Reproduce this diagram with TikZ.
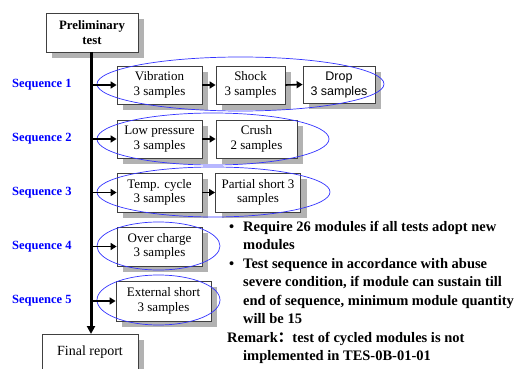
\documentclass[tikz,border=0pt]{standalone}
\usepackage{fontspec}
\setmainfont{Liberation Serif}
\newfontfamily\arialf{Liberation Sans}
\newfontfamily\cjk{Noto Sans CJK SC}
\usetikzlibrary{shadows,arrows.meta}
\begin{document}
\begin{tikzpicture}[x=1pt,y=-1pt,
  box/.style={draw=black!75, line width=0.8pt, fill=white, align=center, inner sep=1pt,
    font=\fontsize{13}{14.5}\selectfont,
    copy shadow={shadow xshift=6pt, shadow yshift=-6pt, fill=gray!60, draw=none}},
  seq/.style={anchor=west, text=blue, font=\bfseries\fontsize{12.5}{14}\selectfont, inner sep=0pt},
  oval/.style={draw=blue!80, line width=0.7pt},
  arr/.style={line width=1.6pt, -{Triangle[length=6pt,width=7pt]}},
  txt/.style={anchor=base west, inner sep=0pt, font=\bfseries\fontsize{14.5}{17}\selectfont}
]
\useasboundingbox (0,0) rectangle (514,369);
\clip (0,0) rectangle (514,369);

% boxes
\node[box, minimum width=92pt, minimum height=39pt, font=\bfseries\fontsize{12.8}{14.5}\selectfont] (pre) at (92,32.5) {Preliminary\\test};
\node[box, minimum width=85pt, minimum height=38pt] (vib) at (159.5,85) {Vibration\\3 samples};
\node[box, minimum width=69pt, minimum height=38pt] (sho) at (250.5,85) {Shock\\3 samples};
\node[box, minimum width=72pt, minimum height=37pt, font=\arialf\fontsize{12.5}{15}\selectfont] (dro) at (339,84.5) {Drop\\3 samples};
\node[box, minimum width=85pt, minimum height=38pt] (low) at (159.5,139) {Low pressure\\3 samples};
\node[box, minimum width=81pt, minimum height=38pt] (cru) at (256.5,139) {Crush\\2 samples};
\node[box, minimum width=85pt, minimum height=39pt] (tem) at (159.5,192.5) {Temp. cycle\\3 samples};
\node[box, minimum width=85pt, minimum height=39pt] (par) at (258,192.5) {Partial short 3\\samples};
\node[box, minimum width=85pt, minimum height=39pt] (ove) at (159.5,246.5) {Over charge\\3 samples};
\node[box, minimum width=95pt, minimum height=40pt] (ext) at (163.5,301) {External short\\3 samples};
\node[box, anchor=north, minimum width=96pt, inner sep=4pt, text height=17pt, text depth=26pt, font=\fontsize{14}{16}\selectfont] (fin) at (90,334) {Final report};

% ellipses
\draw[oval] (240.5,84) ellipse [x radius=143.5, y radius=27];
\draw[oval] (213,139) ellipse [x radius=116, y radius=26];
\draw[oval] (213.5,192) ellipse [x radius=116.5, y radius=25];
\draw[oval] (158.5,246) ellipse [x radius=61.5, y radius=24];
\draw[oval] (158.5,300) ellipse [x radius=61.5, y radius=25];

% trunk
\coordinate (t0) at (91,52);
\coordinate (t1) at (91,334);
\coordinate (b1) at (91,85);
\coordinate (b2) at (91,139);
\coordinate (b3) at (91,192.5);
\coordinate (b4) at (91,246.5);
\coordinate (b5) at (91,301);
\draw[line width=3pt, -{Triangle[length=8pt,width=8pt]}] (t0) -- (t1);
\draw[arr] (b1) -- (vib.west);
\draw[arr] (b2) -- (low.west);
\draw[arr] (b3) -- (tem.west);
\draw[arr] (b4) -- (ove.west);
\draw[arr] (b5) -- (ext.west);
\draw[arr] (vib.east) -- (sho.west);
\draw[arr] (sho.east) -- (dro.west);
\draw[arr] (low.east) -- (cru.west);
\draw[arr] (tem.east) -- (par.west);

% sequence labels
\node[seq] (s1) at (12,85) {Sequence 1};
\node[seq] (s2) at (12,139) {Sequence 2};
\node[seq] (s3) at (12,192.5) {Sequence 3};
\node[seq] (s4) at (12,246.5) {Sequence 4};
\node[seq] (s5) at (12,301) {Sequence 5};

% notes
\node[txt] (u1) at (229,231) {•};
\node[txt] (l1) at (243,231) {Require 26 modules if all tests adopt new};
\node[txt] (l2) at (243,249.5) {modules};
\node[txt] (u2) at (229,268) {•};
\node[txt] (l3) at (243,268) {Test sequence in accordance with abuse};
\node[txt] (l4) at (243,286.5) {severe condition, if module can sustain till};
\node[txt] (l5) at (243,305) {end of sequence, minimum module quantity};
\node[txt] (l6) at (243,323.5) {will be 15};
\node[txt] (l7) at (227,342) {Remark{\cjk ：}test of cycled modules is not};
\node[txt] (l8) at (243,360.5) {implemented in TES-0B-01-01};
\end{tikzpicture}
\end{document}
